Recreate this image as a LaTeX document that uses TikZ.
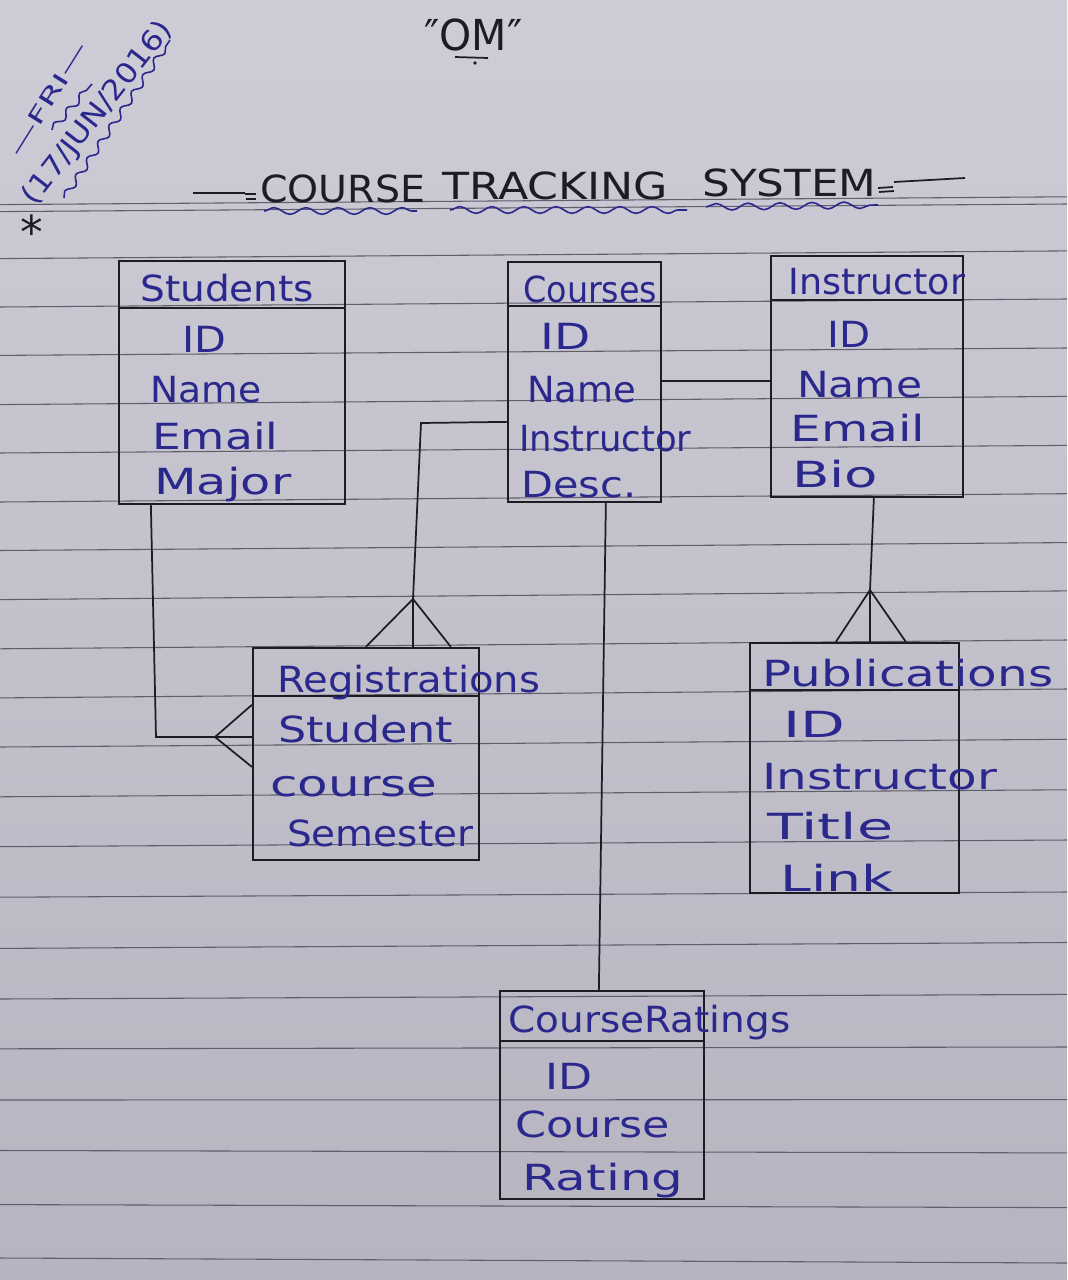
\documentclass[tikz,border=0pt]{standalone}
\usepackage{fontspec}
\setmainfont{DejaVu Sans}
\usetikzlibrary{fit,calc,decorations.pathmorphing}
\newlength\pxu \setlength\pxu{0.75pt}
\newcommand\hw[2]{\resizebox{#1\pxu}{\height}{#2}}
\definecolor{paperT}{RGB}{206,204,214}
\definecolor{paperB}{RGB}{182,180,192}
\definecolor{rulec}{RGB}{96,94,106}
\definecolor{ink}{RGB}{42,40,140}
\definecolor{pen}{RGB}{28,28,34}
\tikzset{
  ent/.style={draw=pen, line width=1.7pt, inner sep=0pt},
  pline/.style={draw=pen, line width=1.3pt},
  fld/.style={text=ink, inner sep=0pt, anchor=base west, font=\fontsize{27}{32}\selectfont},
  ttl/.style={text=pen, inner sep=0pt, anchor=base west, font=\fontsize{28}{33}\selectfont},
  wavy/.style={draw=ink, line width=1.2pt, decorate, decoration={snake, amplitude=2.5pt, segment length=24pt}},
  wavys/.style={draw=ink, line width=1.2pt, decorate, decoration={snake, amplitude=2.5pt, segment length=15pt}},
  ruled/.style={draw=rulec, line width=0.8pt},
}
\begin{document}
\begin{tikzpicture}[x=0.75pt,y=-0.75pt]
\useasboundingbox (0,0) rectangle (1067,1280);
\shade[top color=paperT, bottom color=paperB] (0,0) rectangle (1067,1280);
% ruled paper
\foreach \a/\b in {204.6/196.8, 211.6/204, 258.6/250.9, 307/299, 355.4/348, 404.6/396.4,
  453/445.4, 502/493.7, 550.5/542.6, 599.6/590.9, 648.8/640, 697.9/689, 747/739.3,
  796.8/789.8, 846.7/840, 897.2/892, 948.4/942.5, 999/994.4, 1048.8/1047, 1100/1099.6,
  1150.5/1152.9, 1204.6/1207.6, 1258/1263}
  \draw[ruled] (0,\a) -- (1067,\b);

% header
\node[ttl, anchor=base west, font=\fontsize{32}{36}\selectfont] (om) at (424,51) {\hw{98}{″OM″}};
\draw[pline] (455,57) -- (488,58);
\fill[pen] (475,63) circle (1.8);

\node[text=ink, inner sep=0pt, rotate=58, font=\fontsize{16}{20}\selectfont] (fri) at (48,99) {\hw{130}{—FRI—}};
\node[text=ink, inner sep=0pt, rotate=52, font=\fontsize{21}{25}\selectfont] (dat) at (98,113) {\hw{225}{(17/JUN/2016)}};
\draw[wavys] (64,198) -- (170,40);
\draw[wavys] (52,130) -- (92,84);
\node[text=pen, inner sep=0pt, font=\fontsize{34}{38}\selectfont] (star) at (32,232) {*};

% title
\node[ttl] (tC) at (260,203) {\hw{165}{COURSE}};
\node[ttl] (tT) at (442,200) {\hw{226}{TRACKING}};
\node[ttl] (tS) at (702,197) {\hw{174}{SYSTEM}};
\draw[pline] (193,193) -- (245,193);
\draw[pline] (245,194) -- (256,194) (246,199) -- (256,199);
\draw[pline] (878,188) -- (893,187) (879,192) -- (894,191);
\draw[pline] (894,182) -- (965,178);
\draw[wavy] (264,211) -- (417,211);
\draw[wavy] (450,210) -- (687,210);
\draw[wavy] (706,207) -- (878,205);

% entity boxes
\node[ent, fit={(119,261)(345,504)}] (stu) {};
\node[ent, fit={(508,262)(661,502)}] (crs) {};
\node[ent, fit={(771,256)(963,497)}] (ins) {};
\node[ent, fit={(253,648)(479,860)}] (reg) {};
\node[ent, fit={(750,643)(959,893)}] (pub) {};
\node[ent, fit={(500,991)(704,1199)}] (rat) {};
\draw[ent] ($(stu.north west)+(0,48)$) -- ($(stu.north east)+(0,48)$);
\draw[ent] ($(crs.north west)+(0,45)$) -- ($(crs.north east)+(0,45)$);
\draw[ent] ($(ins.north west)+(0,45)$) -- ($(ins.north east)+(0,45)$);
\draw[ent] ($(reg.north west)+(0,49)$) -- ($(reg.north east)+(0,49)$);
\draw[ent] ($(pub.north west)+(0,48)$) -- ($(pub.north east)+(0,48)$);
\draw[ent] ($(rat.north west)+(0,51)$) -- ($(rat.north east)+(0,51)$);

% Students
\node[fld] (stuT) at (140,301) {\hw{174}{Students}};
\node[fld] (stuA) at (182,352) {\hw{44}{ID}};
\node[fld] (stuB) at (150,402) {\hw{111}{Name}};
\node[fld] (stuC) at (152,449) {\hw{126}{Email}};
\node[fld] (stuD) at (154,494) {\hw{137}{Major}};
% Courses
\node[fld] (crsT) at (523,302) {\hw{134}{Courses}};
\node[fld] (crsA) at (540,349) {\hw{50}{ID}};
\node[fld] (crsB) at (527,402) {\hw{109}{Name}};
\node[fld] (crsC) at (519,451) {\hw{172}{Instructor}};
\node[fld] (crsD) at (521,497) {\hw{115}{Desc.}};
% Instructor
\node[fld] (insT) at (788,294) {\hw{177}{Instructor}};
\node[fld] (insA) at (827,347) {\hw{43}{ID}};
\node[fld] (insB) at (797,397) {\hw{125}{Name}};
\node[fld] (insC) at (790,441) {\hw{135}{Email}};
\node[fld] (insD) at (792,487) {\hw{86}{Bio}};
% Registrations
\node[fld] (regT) at (277,692) {\hw{263}{Registrations}};
\node[fld] (regA) at (278,742) {\hw{175}{Student}};
\node[fld] (regB) at (270,796) {\hw{167}{course}};
\node[fld] (regC) at (287,846) {\hw{186}{Semester}};
% Publications
\node[fld] (pubT) at (762,686) {\hw{291}{Publications}};
\node[fld] (pubA) at (783,737) {\hw{62}{ID}};
\node[fld] (pubB) at (762,789) {\hw{235}{Instructor}};
\node[fld] (pubC) at (767,839) {\hw{126}{Title}};
\node[fld] (pubD) at (780,891) {\hw{113}{Link}};
% CourseRatings
\node[fld] (ratT) at (508,1032) {\hw{282}{CourseRatings}};
\node[fld] (ratA) at (545,1089) {\hw{47}{ID}};
\node[fld] (ratB) at (515,1137) {\hw{155}{Course}};
\node[fld] (ratC) at (522,1190) {\hw{161}{Rating}};

% connectors
\draw[pline] ($(crs.north east)+(0,120)$) -- ($(ins.north west)+(0,126)$);

\coordinate (b1) at (421,423);
\coordinate (cf1) at (413,599);
\draw[pline] ($(crs.north west)+(0,161)$) -- (b1) -- (cf1) -- (reg.north -| cf1);
\draw[pline] ($(reg.north west)+(114,0)$) -- (cf1) -- ($(reg.north west)+(199,0)$);

\coordinate (b2) at (156,737);
\coordinate (cf2) at (215,737);
\draw[pline] ($(stu.south west)+(33,0)$) -- (b2) -- (reg.west |- b2);
\draw[pline] ($(reg.north west)+(0,58)$) -- (cf2) -- ($(reg.north west)+(0,120)$);

\draw[pline] ($(crs.south west)+(99,0)$) -- ($(rat.north west)+(100,0)$);

\coordinate (cf3) at (870,590);
\draw[pline] ($(ins.south west)+(104,0)$) -- (cf3) -- (pub.north -| cf3);
\draw[pline] ($(pub.north west)+(87,0)$) -- (cf3) -- ($(pub.north west)+(157,0)$);
\end{tikzpicture}
\end{document}
